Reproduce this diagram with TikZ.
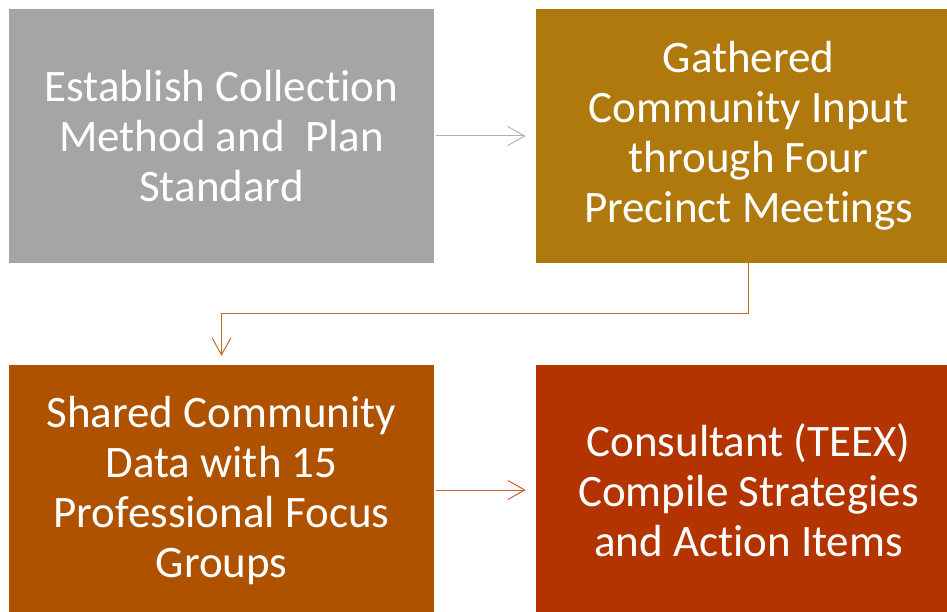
\documentclass[tikz,border=0pt]{standalone}
\usepackage{fontspec}
\setmainfont{Carlito}[Ligatures=CommonOff]
\usetikzlibrary{arrows.meta}

\definecolor{stepgray}{RGB}{165,165,165}
\definecolor{stepgold}{RGB}{175,121,14}
\definecolor{steporange}{RGB}{174,82,0}
\definecolor{steprust}{RGB}{180,52,0}
\definecolor{linkgray}{RGB}{178,178,178}
\definecolor{linkgold}{RGB}{190,110,30}
\definecolor{linkrust}{RGB}{200,95,55}

\begin{document}
\begin{tikzpicture}[
            x=1pt,
            y=-1pt,
            stepbox/.style={minimum width=425pt, minimum height=254pt, inner sep=0pt,
              align=center, text=white, font=\fontsize{45}{50}\selectfont},
            link/.style={line width=1pt, shorten <=2pt, shorten >=10pt,
              -{Straight Barb[length=17pt, width=19pt, line width=1pt]}},
          ]
          \useasboundingbox (0,0) rectangle (947,612);
          \clip (0,0) rectangle (947,612);
          \node[stepbox, fill=stepgray] (s1) at (221.5,136) {Establish Collection\\Method and\ \ Plan\\Standard};
          \node[stepbox, fill=stepgold] (s2) at (748.5,136) {Gathered\\Community Input\\through Four\\Precinct Meetings};
          \node[stepbox, fill=steporange, minimum height=250pt] (s3) at (221.5,490) {Shared Community\\Data with 15\\Professional Focus\\Groups};
          \node[stepbox, fill=steprust, minimum height=250pt] (s4) at (748.5,490) {Consultant (TEEX)\\Compile Strategies\\and Action Items};
          \draw[link, linkgray] (s1) -- (s2);
          \draw[link, linkgold, shorten <=0pt, shorten >=9pt] (s2.south) -- ++(0,50) -| (s3.north);
          \draw[link, linkrust] (s3) -- (s4);
        \end{tikzpicture}
\end{document}
